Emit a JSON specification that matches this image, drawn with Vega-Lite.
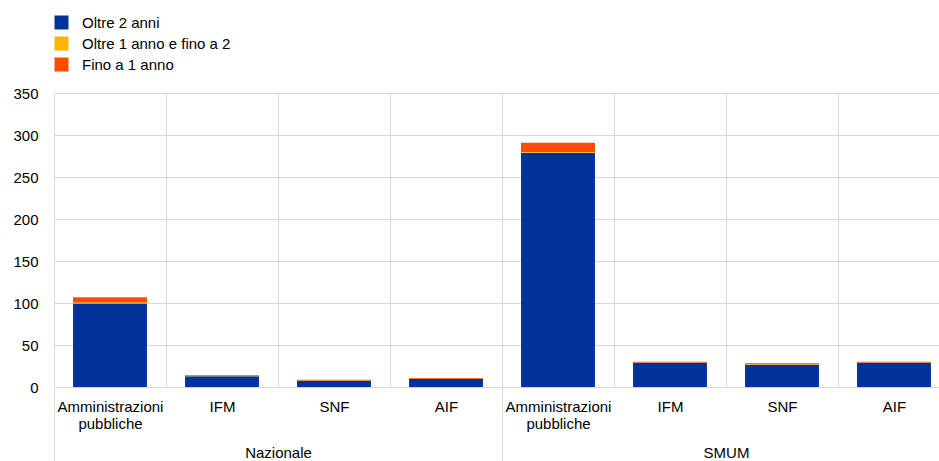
{
  "$schema": "https://vega.github.io/schema/vega-lite/v6.json",
  "width": 896,
  "height": 294,
  "autosize": {"type": "none"},
  "padding": {"left": 54, "top": 93, "right": 0, "bottom": 74},
  "config": {
    "font": "Liberation Sans",
    "view": {"stroke": null},
    "axis": {"labelFont": "Liberation Sans", "labelFontSize": 15, "labelColor": "#000000", "gridColor": "#d9d9d9"},
    "legend": {"labelFont": "Liberation Sans", "labelFontSize": 15, "labelColor": "#000000"}
  },
  "data": {
    "values": [
      {"group": "Nazionale", "key": "Nazionale|Amministrazioni pubbliche", "series": "Oltre 2 anni", "ord": 1, "value": 99.5},
      {"group": "Nazionale", "key": "Nazionale|Amministrazioni pubbliche", "series": "Oltre 1 anno e fino a 2", "ord": 2, "value": 1.0},
      {"group": "Nazionale", "key": "Nazionale|Amministrazioni pubbliche", "series": "Fino a 1 anno", "ord": 3, "value": 6.3},
      {"group": "Nazionale", "key": "Nazionale|IFM", "series": "Oltre 2 anni", "ord": 1, "value": 12.7},
      {"group": "Nazionale", "key": "Nazionale|IFM", "series": "Oltre 1 anno e fino a 2", "ord": 2, "value": 0.4},
      {"group": "Nazionale", "key": "Nazionale|IFM", "series": "Fino a 1 anno", "ord": 3, "value": 0.8},
      {"group": "Nazionale", "key": "Nazionale|SNF", "series": "Oltre 2 anni", "ord": 1, "value": 7.5},
      {"group": "Nazionale", "key": "Nazionale|SNF", "series": "Oltre 1 anno e fino a 2", "ord": 2, "value": 0.3},
      {"group": "Nazionale", "key": "Nazionale|SNF", "series": "Fino a 1 anno", "ord": 3, "value": 0.9},
      {"group": "Nazionale", "key": "Nazionale|AIF", "series": "Oltre 2 anni", "ord": 1, "value": 9.5},
      {"group": "Nazionale", "key": "Nazionale|AIF", "series": "Oltre 1 anno e fino a 2", "ord": 2, "value": 0.3},
      {"group": "Nazionale", "key": "Nazionale|AIF", "series": "Fino a 1 anno", "ord": 3, "value": 0.9},
      {"group": "SMUM", "key": "SMUM|Amministrazioni pubbliche", "series": "Oltre 2 anni", "ord": 1, "value": 279.0},
      {"group": "SMUM", "key": "SMUM|Amministrazioni pubbliche", "series": "Oltre 1 anno e fino a 2", "ord": 2, "value": 0.8},
      {"group": "SMUM", "key": "SMUM|Amministrazioni pubbliche", "series": "Fino a 1 anno", "ord": 3, "value": 11.0},
      {"group": "SMUM", "key": "SMUM|IFM", "series": "Oltre 2 anni", "ord": 1, "value": 28.9},
      {"group": "SMUM", "key": "SMUM|IFM", "series": "Oltre 1 anno e fino a 2", "ord": 2, "value": 0.3},
      {"group": "SMUM", "key": "SMUM|IFM", "series": "Fino a 1 anno", "ord": 3, "value": 1.0},
      {"group": "SMUM", "key": "SMUM|SNF", "series": "Oltre 2 anni", "ord": 1, "value": 26.6},
      {"group": "SMUM", "key": "SMUM|SNF", "series": "Oltre 1 anno e fino a 2", "ord": 2, "value": 0.5},
      {"group": "SMUM", "key": "SMUM|SNF", "series": "Fino a 1 anno", "ord": 3, "value": 1.1},
      {"group": "SMUM", "key": "SMUM|AIF", "series": "Oltre 2 anni", "ord": 1, "value": 28.9},
      {"group": "SMUM", "key": "SMUM|AIF", "series": "Oltre 1 anno e fino a 2", "ord": 2, "value": 0.3},
      {"group": "SMUM", "key": "SMUM|AIF", "series": "Fino a 1 anno", "ord": 3, "value": 0.9}
    ]
  },
  "layer": [
    {
      "mark": {"type": "bar", "width": {"band": 0.66}},
      "encoding": {
        "x": {
          "field": "key", "type": "nominal", "sort": null,
          "scale": {"paddingInner": 0, "paddingOuter": 0},
          "axis": {
            "orient": "bottom",
            "title": null, "domain": false, "ticks": false, "grid": true, "tickBand": "extent",
            "labelAngle": 0, "labelPadding": 12, "labelLineHeight": 17,
            "labelExpr": "split(datum.value, '|')[1] == 'Amministrazioni pubbliche' ? ['Amministrazioni', 'pubbliche'] : split(datum.value, '|')[1]"
          }
        },
        "y": {
          "field": "value", "type": "quantitative", "stack": "zero",
          "scale": {"domain": [0, 350]},
          "axis": {"title": null, "values": [0, 50, 100, 150, 200, 250, 300, 350], "domain": false, "ticks": false, "labelPadding": 16}
        },
        "color": {
          "field": "series", "type": "nominal",
          "scale": {"domain": ["Oltre 2 anni", "Oltre 1 anno e fino a 2", "Fino a 1 anno"], "range": ["#003299", "#FFB400", "#FF4B00"]},
          "legend": {
            "title": null, "orient": "none", "legendX": 0, "legendY": -78, "direction": "vertical",
            "symbolType": "square", "symbolSize": 196, "symbolStrokeWidth": 0, "symbolOpacity": 1,
            "rowPadding": 5, "labelOffset": 13
          }
        },
        "order": {"field": "ord", "type": "quantitative"}
      }
    },
    {
      "mark": {"type": "rule", "opacity": 0},
      "encoding": {
        "x": {
          "field": "group", "type": "nominal", "sort": null,
          "scale": {"paddingInner": 0, "paddingOuter": 0},
          "axis": {
            "orient": "bottom",
            "title": null, "domain": false, "ticks": true, "tickBand": "extent", "tickSize": 75,
            "tickColor": "#d9d9d9", "grid": false, "labelAngle": 0, "labelPadding": -17
          }
        }
      }
    }
  ],
  "resolve": {"scale": {"x": "independent"}, "axis": {"x": "independent"}}
}
